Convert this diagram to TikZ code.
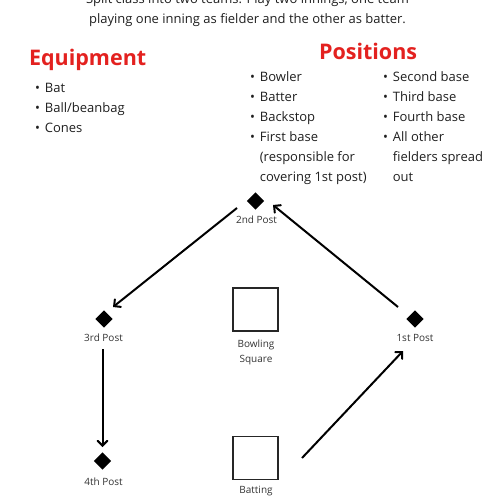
\documentclass[tikz,border=0pt]{standalone}
\usepackage{fontspec}
\setmainfont{Open Sans}
\usetikzlibrary{arrows,shapes.geometric}
\definecolor{headred}{HTML}{E3211F}

\begin{document}
\begin{tikzpicture}[x=1pt,y=-1pt,->,>=angle 90,line width=2pt,
    post/.style={diamond,fill=black,draw=none,inner sep=0pt,minimum size=18pt},
    base/.style={rectangle,draw=black!85,line width=1.1pt,minimum width=45pt,minimum height=43pt,inner sep=0pt},
    tag/.style={font=\fontsize{10}{15.5}\selectfont,text=black!80,align=center},
    head/.style={font=\fontsize{21.5}{24}\selectfont\bfseries,text=headred,inner sep=0pt},
    list/.style={font=\fontsize{13}{20}\selectfont,text=black!88,inner sep=0pt}]
\useasboundingbox (0,0) rectangle (500,500);

% intro text
\node[list,anchor=base] (intro1) at (247.5,3.5) {Split class into two teams. Play two innings, one team};
\node[list,anchor=base] (intro2) at (247.5,23.5) {playing one inning as fielder and the other as batter.};

% headings
\node[head,anchor=base west] (equip) at (28,65.7) {Equipment};
\node[head,anchor=base west] (pos) at (318,60) {Positions};

% lists
\node[list,anchor=base west] (eqlist) at (34,92.5) {\begin{tabular}[t]{@{}l@{\hspace{5pt}}l@{}}
\textbullet & Bat\\ \textbullet & Ball/beanbag\\ \textbullet & Cones\end{tabular}};
\node[list,anchor=base west] (poslist1) at (249,81.5) {\begin{tabular}[t]{@{}l@{\hspace{5pt}}l@{}}
\textbullet & Bowler\\ \textbullet & Batter\\ \textbullet & Backstop\\ \textbullet & First base\\
 & (responsible for\\ & covering 1st post)\end{tabular}};
\node[list,anchor=base west] (poslist2) at (382,81.5) {\begin{tabular}[t]{@{}l@{\hspace{5pt}}l@{}}
\textbullet & Second base\\ \textbullet & Third base\\ \textbullet & Fourth base\\ \textbullet & All other\\
 & fielders spread\\ & out\end{tabular}};

% posts and squares
\node[post] (p2) at (255.5,201) {};
\node[post] (p3) at (104,319) {};
\node[post] (p1) at (415,319) {};
\node[post] (p4) at (102.5,461) {};
\node[base] (bowl) at (255.5,309.5) {};
\node[base] (bat) at (255.5,458) {};

\node[tag] (l2) at (256.5,220) {2nd Post};
\node[tag] (l3) at (103.5,338) {3rd Post};
\node[tag] (l1) at (415,338) {1st Post};
\node[tag] (l4) at (103.5,482) {4th Post};
\node[tag] (lbowl) at (256,352.4) {Bowling\\Square};
\node[tag] (lbat) at (256,498.4) {Batting\\Square};

% running order
\draw ([shift={(-18.5,7)}]p2.center) -- ([shift={(9,-12)}]p3.center);
\draw ([shift={(-1.5,30)}]p3.center) -- ([shift={(0,-14)}]p4.center);
\draw ([shift={(46.5,0)}]bat.center) -- ([shift={(-12,32)}]p1.center);
\draw ([shift={(-17,-12)}]p1.center) -- ([shift={(17.5,4)}]p2.center);
\end{tikzpicture}
\end{document}
